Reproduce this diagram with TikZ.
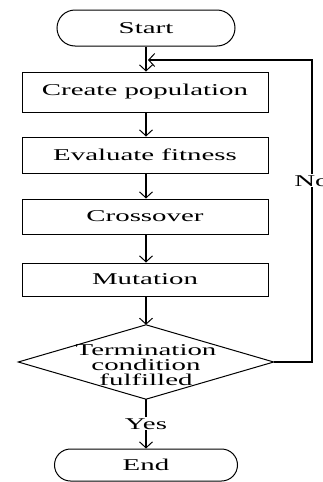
\documentclass[tikz,border=0pt]{standalone}
\usepackage{fontspec}
\setmainfont{Liberation Serif}[FakeStretch=1.75]
\usetikzlibrary{arrows.meta,shapes.misc}
\begin{document}
\begin{tikzpicture}[x=1pt,y=-1pt,
  every node/.style={font=\fontsize{16.5}{15}\selectfont, inner sep=0pt},
  stepbox/.style={draw, line width=1pt, minimum width=246pt},
  termbox/.style={draw, line width=1pt, rounded rectangle},
  conn/.style={line width=1.1pt, -{Straight Barb[length=6pt,width=13pt,line width=1pt]}},
  plain/.style={line width=1pt},
  lbl/.style={fill=white, inner sep=1pt}]
\useasboundingbox (0,0) rectangle (323,482);
\node[termbox, minimum width=178pt, minimum height=36pt] (start) at (146,28) {Start};
\node[stepbox, minimum height=40pt] (create) at (145,92) {Create population};
\node[stepbox, minimum height=36pt] (eval) at (145,155) {Evaluate fitness};
\node[stepbox, minimum height=35pt] (cross) at (145,216.5) {Crossover};
\node[stepbox, minimum height=33pt] (mut) at (145,279.5) {Mutation};
\node[minimum width=255pt, minimum height=74pt] (dec) at (146,362) {};
\draw[plain] (dec.north) -- (dec.east) -- (dec.south) -- (dec.west) -- cycle;
\node[align=center] (dect) at (146,365) {Termination\\condition\\fulfilled};
\node[termbox, minimum width=183pt, minimum height=32pt] (end) at (146,465) {End};
\coordinate (join) at (146,60);
\coordinate (loopbot) at (312,362);
\coordinate (looptop) at (312,60);
\draw[conn] (start.south -| join) -- (create.north -| join);
\draw[conn] (create.south -| join) -- (eval.north -| join);
\draw[conn] (eval.south -| join) -- (cross.north -| join);
\draw[conn] (cross.south -| join) -- (mut.north -| join);
\draw[conn] (mut.south -| join) -- (dec.north);
\draw[conn] (dec.south) -- node[lbl] (yes) {Yes} (end.north);
\draw[conn] (dec.east) -- (loopbot) -- node[lbl, pos=0.6] (no) {No} (looptop) -- ([xshift=2pt]join);
\end{tikzpicture}
\end{document}
